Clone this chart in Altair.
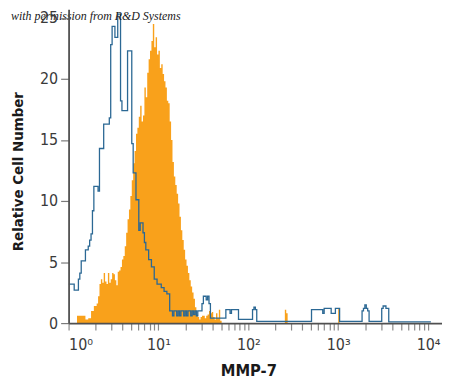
import altair as alt
import pandas as pd

# ---- data (channel = 1/64 decade of MMP-7 fluorescence; counts = relative cell number)
CH_PER_DECADE = 64

# isotype control (blue outline): run starts (channel) and counts
BLUE_CH = [0, 4, 7, 8, 9, 12, 14, 15, 16, 17, 18, 21, 22, 25, 29, 30, 31, 33, 35, 37,
           38, 42, 45, 46, 48, 50, 51, 53, 54, 55, 57, 59, 61, 63, 66, 68, 70, 72, 74,
           75, 77, 78, 79, 80, 82, 83, 84, 85, 87, 88, 89, 90, 91, 92, 95, 96, 98, 99,
           100, 101, 112, 115, 116, 121, 131, 132, 133, 134, 173, 181, 182, 187, 190,
           193, 209, 210, 211, 212, 213, 214, 223, 224, 226, 228, 258]
BLUE_N = [3.2, 2.7, 3.6, 4.1, 5.1, 6.0, 6.3, 6.8, 7.3, 9.2, 11.2, 10.8, 14.3, 16.3, 16.8,
          22.8, 24.3, 23.4, 25.3, 18.2, 17.4, 22.3, 14.7, 12.3, 10.1, 7.6, 8.2, 7.4, 6.6,
          6.0, 5.2, 4.6, 3.6, 3.2, 2.9, 2.6, 2.4, 1.0, 0.6, 1.0, 0.6, 1.0, 0.6, 1.0, 0.6,
          1.0, 0.6, 1.0, 0.6, 1.0, 0.7, 1.0, 0.6, 1.0, 1.6, 2.2, 1.9, 2.2, 1.6, 0.4, 1.1,
          0.8, 1.1, 0.3, 1.1, 1.3, 1.1, 0.15, 1.1, 0.8, 1.2, 0.8, 1.2, 0.15, 1.0, 1.2,
          1.5, 1.2, 1.0, 0.15, 1.2, 1.4, 1.2, 0.1, 0.1]

# MMP-7 stained cells (orange filled): one count per channel from ORANGE_START
ORANGE_START = 6
ORANGE_N = [0.6, 0.6, 0.6, 0.6, 0.6, 0.6, 0.3, 0.3, 0.4, 0.4, 1.0, 1.0, 1.4, 1.4,
            1.6, 2.2, 3.2, 3.6, 3.3, 4.1, 3.4, 3.2, 4.1, 3.3, 3.6, 4.1, 4.0, 3.5, 3.1,
            4.2, 4.3, 4.6, 5.2, 5.5, 6.3, 7.4, 8.5, 9.3, 10.4, 11.7, 13.1, 14.1, 15.5,
            16.0, 16.9, 17.8, 16.5, 17.0, 19.3, 18.5, 20.5, 21.6, 22.3, 23.1, 24.5, 22.6,
            23.4, 22.0, 22.3, 20.9, 21.2, 20.4, 19.8, 19.3, 18.2, 18.0, 16.5, 15.0, 13.2,
            12.0, 11.3, 10.6, 9.8, 8.7, 7.6, 6.8, 6.0, 5.2, 4.7, 4.1, 3.5, 3.0, 2.5, 2.0,
            1.3, 0.7, 0.5, 0.3, 0.5, 0.6, 0.6, 0.4, 0.6, 0.7, 1.0, 0.8, 0.9, 0.5, 0.3,
            0.8, 0.4, 1.1, 0.2]
ORANGE_TAIL_CH = [109, 154, 155, 156, 192, 193]
ORANGE_TAIL_N = [0, 1.1, 0.8, 0, 1.2, 0]

X_TICKS = [1, 2, 3, 4, 5, 6, 7, 8, 9,
           10, 20, 30, 40, 50, 60, 70, 80, 90,
           100, 200, 300, 400, 500, 600, 700, 800, 900,
           1000, 2000, 3000, 4000, 5000, 6000, 7000, 8000, 9000, 10000]
X_LABELS = {1: "10⁰", 10: "10¹", 100: "10²", 1000: "10³", 10000: "10⁴"}
Y_TICKS = [0, 5, 10, 15, 20, 25]
NOTE = "with permission from R&D Systems"

# ---- build tables
def table(chs, ns):
    return pd.DataFrame({"mmp7": [10 ** (c / CH_PER_DECADE) for c in chs], "n": ns})

orange_ch = [ORANGE_START + i for i in range(len(ORANGE_N))] + ORANGE_TAIL_CH
orange_df = table(orange_ch, ORANGE_N + ORANGE_TAIL_N)
blue_df = table(BLUE_CH, BLUE_N)

LABEL_FONT = "Liberation Sans Narrow, 'DejaVu Sans Condensed', 'Roboto Condensed', Roboto, sans-serif"

label_expr = " : ".join(
    [f"datum.value == {k} ? '{v}'" for k, v in X_LABELS.items()]
) + " : ''"

x_enc = alt.X(
    "mmp7:Q",
    scale=alt.Scale(type="log", domain=[1, 14290], nice=False),
    axis=alt.Axis(
        values=X_TICKS, labelExpr=label_expr, labelOverlap=False, grid=False,
        tickSize=7, tickColor="#8a8a8a", tickWidth=1.2,
        domainColor="#505050", domainWidth=1.8,
        labelFont=LABEL_FONT, labelFontSize=16, labelColor="#3a3a3a", labelPadding=7,
        title="MMP-7", titleFont=LABEL_FONT, titleFontSize=16.5, titleFontWeight="bold",
        titleColor="#1a1a1a", titleX=181, titleY=53, titleAlign="center",
        titleBaseline="alphabetic", zindex=2,
    ),
)
y_enc = alt.Y(
    "n:Q",
    scale=alt.Scale(domain=[0, 25.7], nice=False),
    axis=alt.Axis(
        values=Y_TICKS, grid=False, tickSize=8, tickColor="#7a7a7a", tickWidth=1.2,
        domainColor="#505050", domainWidth=1.8,
        labelFont=LABEL_FONT, labelFontSize=16, labelColor="#3a3a3a", labelPadding=3,
        title="Relative Cell Number", titleFont=LABEL_FONT, titleFontSize=15,
        titleFontWeight="bold", titleColor="#1a1a1a", titleX=-46, titleY=163,
        titleAlign="center", titleBaseline="alphabetic", titleAngle=270, zindex=2,
    ),
)

orange = alt.Chart(orange_df).mark_area(
    interpolate="step-after", color="#F9A11B", opacity=1, clip=True
).encode(x=x_enc, y=y_enc)

blue = alt.Chart(blue_df).mark_line(
    interpolate="step-after", color="#2b6894", strokeWidth=1.3, clip=True
).encode(x=x_enc, y=y_enc)

note = alt.Chart(pd.DataFrame({"t": [NOTE]})).mark_text(
    align="left", baseline="alphabetic", font="Liberation Serif", fontStyle="italic",
    fontSize=12, color="#1a1a1a"
).encode(x=alt.value(-58), y=alt.value(11), text="t:N")

chart = alt.layer(orange, blue, note).properties(
    width=376, height=316,
    padding={"left": 61, "top": 0, "right": 0, "bottom": 55},
    autosize=alt.AutoSizeParams(type="none"),
    background="white",
).configure_view(stroke=None)

chart.save("out.html", embed_options={"renderer": "svg", "actions": False})
